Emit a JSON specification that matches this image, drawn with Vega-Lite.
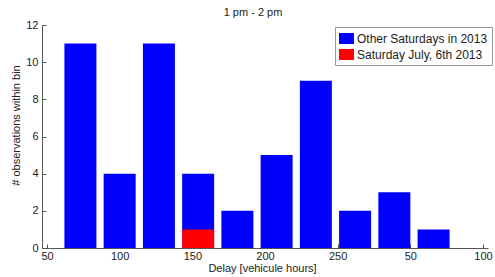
{
  "$schema": "https://vega.github.io/schema/vega-lite/v6.json",
  "width": 446,
  "height": 223,
  "autosize": {"type": "none"},
  "padding": {"left": 42, "top": 25, "right": 7, "bottom": 29},
  "background": "white",
  "config": {
    "view": {"stroke": null},
    "font": "Liberation Sans",
    "axis": {"grid": false, "domainColor": "#555555", "tickColor": "#555555", "labelColor": "#222222", "titleColor": "#222222", "labelFontSize": 11, "titleFontSize": 11, "titleFontWeight": "normal", "labelFont": "Liberation Sans", "titleFont": "Liberation Sans"}
  },
  "title": {"text": "1 pm - 2 pm", "fontSize": 11, "fontWeight": "normal", "font": "Liberation Sans", "color": "#222222", "anchor": "middle", "offset": 1, "dx": -12},
  "data": {"values": [
    {"delay": 73, "count": 11, "series": "Other Saturdays in 2013"},
    {"delay": 100, "count": 4, "series": "Other Saturdays in 2013"},
    {"delay": 127, "count": 11, "series": "Other Saturdays in 2013"},
    {"delay": 154, "count": 4, "series": "Other Saturdays in 2013"},
    {"delay": 181, "count": 2, "series": "Other Saturdays in 2013"},
    {"delay": 208, "count": 5, "series": "Other Saturdays in 2013"},
    {"delay": 235, "count": 9, "series": "Other Saturdays in 2013"},
    {"delay": 262, "count": 2, "series": "Other Saturdays in 2013"},
    {"delay": 289, "count": 3, "series": "Other Saturdays in 2013"},
    {"delay": 316, "count": 1, "series": "Other Saturdays in 2013"},
    {"delay": 154, "count": 1, "series": "Saturday July, 6th 2013"}
  ]},
  "mark": {"type": "bar", "size": 32},
  "encoding": {
    "x": {
      "field": "delay", "type": "quantitative",
      "scale": {"domain": [50, 350], "nice": false, "zero": false},
      "axis": {"values": [50, 100, 150, 200, 250, 300, 350], "labelExpr": "datum.value == 300 ? '50' : datum.value == 350 ? '100' : datum.label", "title": "Delay [vehicule hours]", "tickSize": -4, "labelPadding": 6, "labelFlush": false, "titleX": 220, "titleY": 20, "titleBaseline": "middle"}
    },
    "y": {
      "field": "count", "type": "quantitative", "stack": null,
      "scale": {"domain": [0, 12], "nice": false},
      "axis": {"values": [0, 2, 4, 6, 8, 10, 12], "title": "# observations within bin", "tickSize": -4, "labelPadding": 8, "titleX": -26, "titleY": 100, "titleAlign": "center", "titleBaseline": "middle", "titleAngle": -90}
    },
    "color": {
      "field": "series", "type": "nominal",
      "scale": {"domain": ["Other Saturdays in 2013", "Saturday July, 6th 2013"], "range": ["#0000ff", "#ff0000"]},
      "legend": {"title": null, "orient": "none", "legendX": 293, "legendY": 2, "strokeColor": "#999999", "fillColor": "white", "padding": 4, "symbolType": "M-1,-0.733H1V0.733H-1Z", "symbolSize": 225, "symbolStrokeWidth": 0, "labelFontSize": 12, "labelFont": "Liberation Sans", "labelColor": "#222222", "rowPadding": 2, "labelOffset": 3, "cornerRadius": 0}
    }
  }
}
